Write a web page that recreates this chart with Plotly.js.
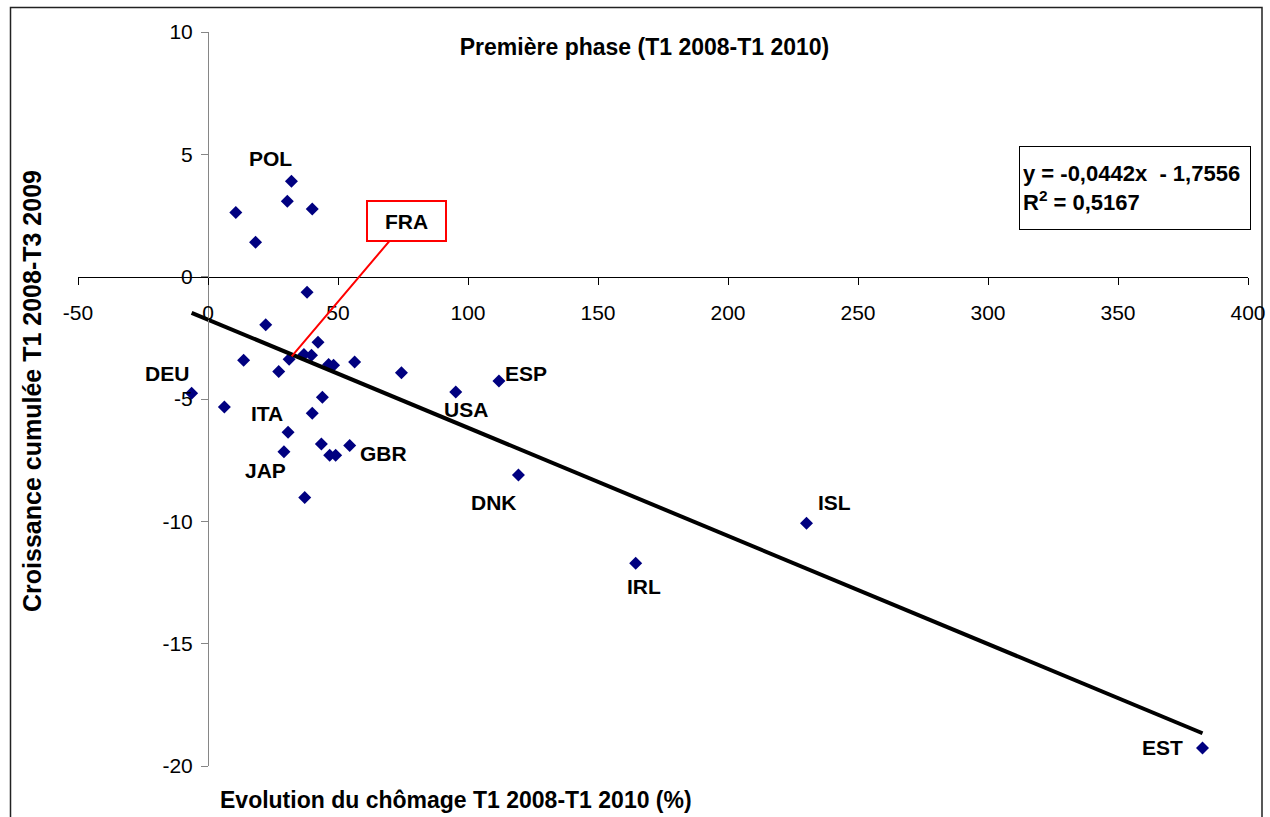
<!DOCTYPE html>
<html>
<head>
<meta charset="utf-8">
<script src="https://cdn.plot.ly/plotly-3.0.1.min.js"></script>
<style>html,body{margin:0;padding:0;background:#fff;}#chart{width:1270px;height:817px;}</style>
</head>
<body>
<div id="chart"></div>
<script>
// ---- data ----
const countryCodes = ['', '', '', 'POL', '', '', '', '', '', '', 'FRA', '', '', '', '', '', '', 'DEU', '', '', '', 'ITA', '', 'GBR', 'JAP', '', '', '', 'USA', 'ESP', 'DNK', 'IRL', 'ISL', 'EST'];
const chomageEvolution = [10.7, 18.3, 30.5, 32.1, 40.1, 38.1, 22.2, 42.3, 36.9, 39.8, 31.2, 13.7, 46.4, 48.3, 56.4, 74.4, 27.2, -6.3, 6.3, 44.0, 40.1, 30.8, 43.6, 54.5, 29.2, 46.8, 49.1, 37.2, 95.3, 111.9, 119.4, 164.5, 230.2, 382.5];
const croissanceCumulee = [2.62, 1.41, 3.08, 3.90, 2.77, -0.64, -1.97, -2.68, -3.18, -3.21, -3.38, -3.42, -3.59, -3.62, -3.49, -3.93, -3.88, -4.77, -5.33, -4.93, -5.58, -6.36, -6.84, -6.90, -7.16, -7.30, -7.30, -9.03, -4.71, -4.26, -8.11, -11.71, -10.08, -19.26];
const trendSlope = -0.0442;
const trendIntercept = -1.7556;
const rSquared = '0,5167';
const xTickValues = [-50, 0, 50, 100, 150, 200, 250, 300, 350, 400];
const yTickValues = [-20, -15, -10, -5, 0, 5, 10];

// ---- styles (label offsets in px) ----
const labelOffsets = {
  POL: [-21, 23], DEU: [-25, 20], ITA: [-21, 19], JAP: [-18, -19], GBR: [34, -8],
  USA: [10, -18], ESP: [27, 7], DNK: [-24, -27], IRL: [8, -23], ISL: [28, 21], EST: [-40, 0]
};
const FONT = 'Liberation Sans, Arial, sans-serif';

const xMin = Math.min(...chomageEvolution), xMax = Math.max(...chomageEvolution);
const trendX = [xMin, xMax];
const trendY = trendX.map(v => trendSlope * v + trendIntercept);

const traces = [
  {
    type: 'scatter', mode: 'markers',
    x: chomageEvolution, y: croissanceCumulee, text: countryCodes,
    marker: {symbol: 'diamond', size: 10, color: '#000080'},
    hoverinfo: 'x+y+text', showlegend: false
  },
  {
    type: 'scatter', mode: 'lines', x: trendX, y: trendY,
    line: {color: '#000000', width: 4}, hoverinfo: 'skip', showlegend: false
  }
];

const annotations = [];
countryCodes.forEach((c, i) => {
  if (!c || !labelOffsets[c]) return;
  annotations.push({
    x: chomageEvolution[i], y: croissanceCumulee[i], xref: 'x', yref: 'y',
    text: '<b>' + c + '</b>', showarrow: false,
    xshift: labelOffsets[c][0], yshift: labelOffsets[c][1],
    font: {family: FONT, size: 21, color: '#000'}
  });
});
// FRA callout
const fi = countryCodes.indexOf('FRA');
annotations.push({
  x: chomageEvolution[fi], y: croissanceCumulee[fi], xref: 'x', yref: 'y',
  text: '<b>FRA</b>', showarrow: true, arrowhead: 0, arrowwidth: 2, arrowcolor: '#ff0000',
  ax: 117, ay: -138, standoff: 4,
  bordercolor: '#ff0000', borderwidth: 2, borderpad: 6, bgcolor: '#ffffff',
  width: 65, height: 26,
  font: {family: FONT, size: 21, color: '#000'}
});
// equation box
annotations.push({
  xref: 'paper', yref: 'paper', x: 0.9034, y: 0.7868, xanchor: 'center', yanchor: 'middle',
  text: '<b>y = -0,0442x  - 1,7556<br>R<sup>2</sup> = ' + rSquared + '</b>',
  showarrow: false, align: 'left', bordercolor: '#000', borderwidth: 1, borderpad: 3,
  bgcolor: '#fff', width: 224, height: 76,
  font: {family: FONT, size: 22, color: '#000'}
});
// axis titles
annotations.push({
  xref: 'paper', yref: 'paper', x: 0.3235, y: -0.0463, xanchor: 'center', yanchor: 'middle',
  text: '<b>Evolution du chômage T1 2008-T1 2010 (%)</b>', showarrow: false,
  font: {family: FONT, size: 23, color: '#000'}
});
annotations.push({
  xref: 'paper', yref: 'paper', x: -0.0393, y: 0.511, xanchor: 'center', yanchor: 'middle',
  text: '<b>Croissance cumulée T1 2008-T3 2009</b>', showarrow: false, textangle: -90,
  font: {family: FONT, size: 25, color: '#000'}
});

const layout = {
  width: 1270, height: 817,
  margin: {l: 78, r: 22, t: 32, b: 51, pad: 0},
  paper_bgcolor: '#ffffff', plot_bgcolor: '#ffffff',
  showlegend: false,
  title: {
    text: 'Première phase (T1 2008-T1 2010)', xref: 'container', yref: 'container',
    x: 0.5075, y: 1 - 47 / 817, xanchor: 'center', yanchor: 'middle',
    font: {family: FONT, size: 23, color: '#000', weight: 'bold'}
  },
  xaxis: {
    range: [-50, 400], autorange: false, anchor: 'free', position: 20 / 30,
    tickvals: xTickValues, ticktext: xTickValues.map(String),
    showline: true, linecolor: '#000', linewidth: 1,
    ticks: 'outside', ticklen: 7, tickcolor: '#000', tickwidth: 1,
    ticklabelstandoff: 10,
    showgrid: false, zeroline: false,
    tickfont: {family: FONT, size: 21, color: '#000'}
  },
  yaxis: {
    range: [-20, 10], autorange: false, anchor: 'free', position: 50 / 450,
    tickvals: yTickValues, ticktext: yTickValues.map(String),
    showline: true, linecolor: '#868686', linewidth: 1,
    ticks: 'outside', ticklen: 7, tickcolor: '#868686', tickwidth: 1,
    ticklabelstandoff: 4,
    showgrid: false, zeroline: false,
    tickfont: {family: FONT, size: 21, color: '#000'}
  },
  shapes: [{
    type: 'rect', xref: 'paper', yref: 'paper',
    x0: (10.5 - 78) / 1170, x1: (1262 - 78) / 1170,
    y0: (766 - 840) / 734, y1: (766 - 7.5) / 734,
    line: {color: '#222', width: 1.5}, fillcolor: 'rgba(0,0,0,0)', layer: 'below'
  }],
  annotations: annotations
};

Plotly.newPlot('chart', traces, layout, {displayModeBar: false, staticPlot: true});
</script>
</body>
</html>
